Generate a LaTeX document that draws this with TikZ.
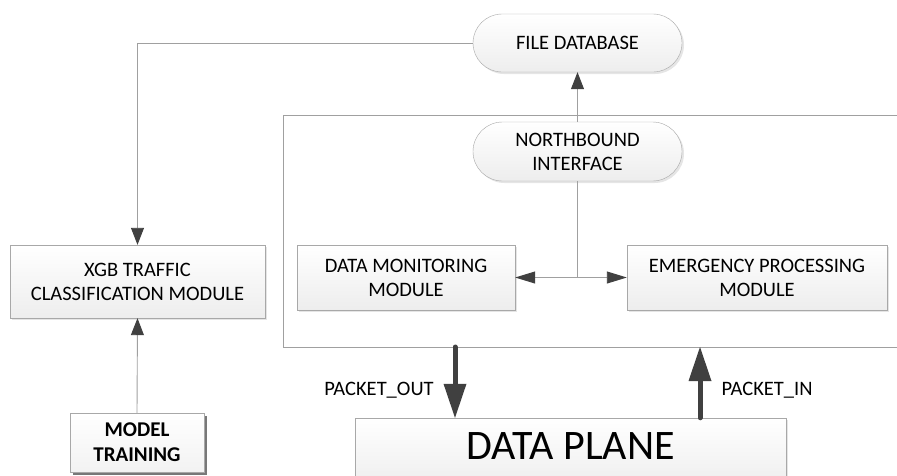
\documentclass[tikz,border=0pt]{standalone}
\usepackage{fontspec}
\setmainfont{Carlito}
\usetikzlibrary{arrows.meta,shapes.misc,shadows}
\definecolor{linegray}{HTML}{A0A0A0}
\definecolor{tipgray}{HTML}{404040}
\definecolor{boxedge}{HTML}{A8A8A8}
\begin{document}
\begin{tikzpicture}[x=1pt,y=-1pt,
  box/.style={draw=boxedge, top color=white, bottom color=gray!14, align=center,
    font=\fontsize{20.5}{24}\selectfont, inner sep=0pt,
    drop shadow={opacity=0.2, shadow xshift=2pt, shadow yshift=-2pt}},
  stadium/.style={box, rounded rectangle},
  darkbox/.style={draw=boxedge, top color=white, bottom color=gray!10, align=center,
    font=\bfseries\fontsize{21}{25}\selectfont, inner sep=0pt,
    drop shadow={opacity=0.75, fill=gray!60!black, shadow xshift=3pt, shadow yshift=-3pt}},
  conn/.style={draw=linegray, line width=0.9pt},
  tip/.style={-{Triangle[width=13pt,length=17pt,color=tipgray,fill=tipgray]}},
  bitip/.style={{Triangle[width=12pt,length=20pt,color=tipgray,fill=tipgray]}-{Triangle[width=12pt,length=20pt,color=tipgray,fill=tipgray]}},
  bigarrow/.style={draw=tipgray, line width=5pt, line cap=round,
    -{Triangle[width=23pt,length=34pt,color=tipgray,fill=tipgray,line width=0pt]}},
  lbl/.style={font=\fontsize{20.5}{24}\selectfont, inner sep=0pt}]
\clip (0,0) rectangle (897,475);
\fill[white] (0,0) rectangle (897,475);

% control plane frame (open to the right)
\draw[conn] (900,115) -- (283,115) -- (283,347) -- (900,347);

\node[stadium, minimum width=209pt, minimum height=58pt] (fd) at (577.5,43) {FILE DATABASE};
\node[stadium, minimum width=209pt, minimum height=59pt] (nb) at (577.5,151.5) {NORTHBOUND\\INTERFACE};
\node[box, minimum width=218pt, minimum height=65pt] (dm) at (406,277.5) {DATA MONITORING\\MODULE};
\node[box, minimum width=260pt, minimum height=65pt] (em) at (757,277.5) {EMERGENCY PROCESSING\\MODULE};
\node[box, minimum width=255pt, minimum height=73pt] (xgb) at (137.5,281.5) {XGB TRAFFIC\\CLASSIFICATION MODULE};
\node[darkbox, minimum width=134pt, minimum height=59pt] (mt) at (137,442.5) {MODEL\\TRAINING};
\node[box, minimum width=431pt, minimum height=70pt] (dp) at (570.5,453) {};
\node[lbl, font=\fontsize{42}{48}\selectfont] (dpt) at (570.5,446.5) {DATA PLANE};

% connectors
\draw[conn, tip] (fd.west) -| (xgb.north);
\draw[conn, tip] (nb.north) -- (fd.south);
\coordinate (j) at (577.5,278);
\draw[conn] (nb.south) -- (j);
\draw[conn, bitip] (dm.east) -- (em.west);
\draw[conn, tip] (mt.north) -- (xgb.south);

\coordinate (po) at (455,347);
\coordinate (pi) at (700,347);
\draw[bigarrow] (po) -- (po |- dp.north);
\draw[bigarrow] (pi |- dp.north) -- (pi);

\node[lbl] (polbl) at (379,390) {PACKET\_OUT};
\node[lbl] (pilbl) at (767,390) {PACKET\_IN};
\end{tikzpicture}
\end{document}
